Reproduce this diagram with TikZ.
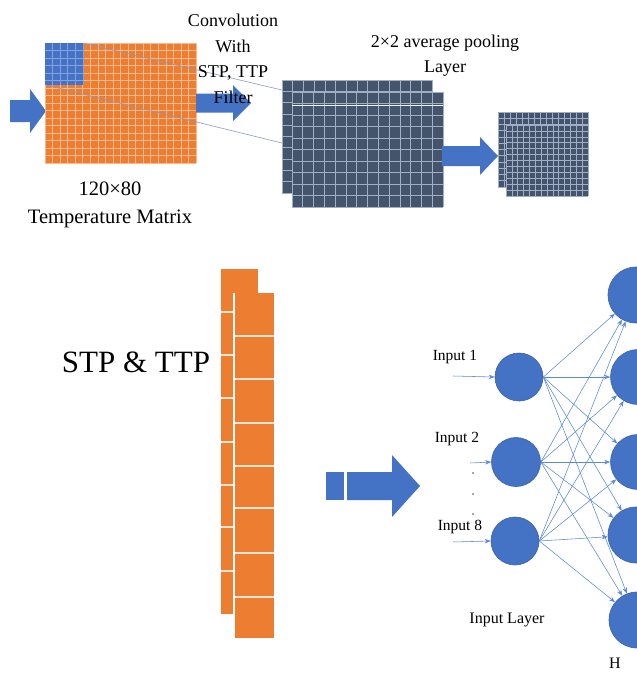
\documentclass[tikz,border=0pt]{standalone}
\usepackage{fontspec}
\setmainfont{Liberation Serif}
\usetikzlibrary{arrows.meta,shapes.geometric}
\definecolor{orng}{HTML}{ED7D31}
\definecolor{blu}{HTML}{4472C4}
\definecolor{bludark}{HTML}{3A62AC}
\definecolor{navy}{HTML}{44546A}
\definecolor{navygrid}{HTML}{9FAFC9}
\definecolor{orggrid}{HTML}{F6B990}
\definecolor{linkc}{HTML}{5B89D9}
\definecolor{patchline}{HTML}{8797C4}
\newcommand{\blkarrow}[6]{\fill[blu] (#1,#4-#5) -- (#2,#4-#5) -- (#2,#4-#6) -- (#3,#4) -- (#2,#4+#6) -- (#2,#4+#5) -- (#1,#4+#5) -- cycle;}
\newcommand{\gridmap}[8]{%
  \fill[#1] (#3,#4) rectangle (#5,#6);
  \foreach \k in {0,...,#7} {\draw[#2] ({#3+(#5-#3)*\k/#7},#4) -- ({#3+(#5-#3)*\k/#7},#6);}
  \foreach \k in {0,...,#8} {\draw[#2] (#3,{#4+(#6-#4)*\k/#8}) -- (#5,{#4+(#6-#4)*\k/#8});}
}
\tikzset{
  lbl/.style={inner sep=0pt, align=center, text=black},
  neuron/.style={circle, fill=blu, draw=bludark, line width=0.6pt, inner sep=0pt},
  conn/.style={draw=linkc, line width=0.55pt, -{Stealth[length=6pt,width=4.5pt]}},
}
\begin{document}
\begin{tikzpicture}[x=1pt,y=-1pt]
\useasboundingbox (0,0) rectangle (637,673);
\fill[white] (0,0) rectangle (637,673);

% ---------- top row ----------
\blkarrow{10}{30}{46}{111}{11}{22}
% temperature matrix
\gridmap{orng}{orggrid, line width=0.6pt}{45}{43}{196}{163}{20}{16}
\fill[blu] (45,43) rectangle (83,85);
\foreach \k in {1,...,5} {\draw[blu!65!white, line width=0.5pt] ({45+7.55*\k},43) -- ({45+7.55*\k},85);}
\foreach \k in {1,...,5} {\draw[blu!65!white, line width=0.5pt] (45,{43+7.5*\k}) -- (83,{43+7.5*\k});}
% convolution arrow
\blkarrow{196}{233}{251}{103}{9.5}{18}
% feature maps
\gridmap{navy}{navygrid, line width=0.7pt}{282}{80}{432}{193}{14}{10}
\gridmap{navy}{navygrid, line width=0.7pt}{292}{92}{443}{207}{14}{10}
\draw[white!85!navygrid, line width=1pt] (292,105) -- (443,105);
% receptive field lines
\coordinate (pa) at (83,43);
\coordinate (pb) at (46,85);
\coordinate (fa) at (282,90);
\coordinate (fb) at (282,143);
\draw[patchline, line width=0.7pt, opacity=0.85] (pa) -- (fa);
\draw[patchline, line width=0.7pt, opacity=0.85] (pb) -- (fb);
% pooling arrow
\blkarrow{442}{480}{498}{156}{10}{19}
% pooled maps
\gridmap{navy}{navygrid, line width=0.6pt}{498}{112}{588}{187}{15}{12}
\gridmap{navy}{navygrid, line width=0.6pt}{506}{125}{588}{196}{14}{12}

% top labels
\node[lbl, font=\fontsize{18}{25.5}\selectfont] (conv) at (233,59) {Convolution\\With\\STP, TTP\\Filter};
\node[lbl, font=\fontsize{18}{25}\selectfont] (pool) at (445,56) {2×2 average pooling\\Layer};
\node[lbl, font=\fontsize{20.5}{28}\selectfont] (tm) at (110,205) {120×80\\Temperature Matrix};

% ---------- bottom row ----------
\node[lbl, font=\fontsize{31}{31}\selectfont] (stp) at (136,362) {STP \& TTP};
% stacked orange columns
\foreach \y in {269,312,355,398,442,485,527,571} {\fill[orng] (221,\y) rectangle (258,{\y+43});}
\foreach \y in {312,355,398,442,485,527,571} {\draw[white!80!orng, line width=1.6pt] (221,\y) -- (258,\y);}
\fill[white] (233,293) rectangle (235,638);
\foreach \y in {293,336,379,423,466,508,553,597} {\fill[orng] (235,\y) rectangle (274,{min(\y+44,638)});}
\foreach \y in {336,379,423,466,508,553,597} {\draw[white!80!orng, line width=1.6pt] (235,\y) -- (274,\y);}
\draw[white!80!orng, line width=2.6pt] (235,336) -- (274,336);

% big arrow
\fill[blu] (326,472) rectangle (344,500);
\blkarrow{347}{392}{420}{486}{14}{31}

% input neurons
\node[neuron, minimum width=48pt, minimum height=47pt] (i1) at (519,377) {};
\node[neuron, minimum width=47pt, minimum height=49pt] (i2) at (516,462) {};
\node[neuron, minimum width=47pt, minimum height=48pt] (i8) at (515,541) {};
% hidden neurons
\node[neuron, minimum size=56pt] (h1) at (636,295) {};
\node[neuron, minimum size=55pt] (h2) at (638,377) {};
\node[neuron, minimum size=55pt] (h3) at (638,462) {};
\node[neuron, minimum size=56pt] (h4) at (636,535) {};
\node[neuron, minimum size=56pt] (h5) at (637,620) {};

% input arrows
\coordinate (s1) at (453,376);
\coordinate (s2) at (470,463);
\coordinate (s8) at (453,542);
\draw[conn] (s1) -- (i1.west);
\draw[conn] (s2) -- (i2.west);
\draw[conn] (s8) -- (i8.west);

% full connections
\foreach \i in {i1,i2,i8} {
  \foreach \h in {h1,h2,h3,h4,h5} {
    \draw[conn] (\i.east) -- (\h);
  }
}

% labels
\node[lbl, font=\fontsize{15.5}{15.5}\selectfont] (l1) at (455,357) {Input 1};
\node[lbl, font=\fontsize{15.5}{15.5}\selectfont] (l2) at (457,439) {Input 2};
\node[lbl, font=\fontsize{15.5}{15.5}\selectfont] (l8) at (460,527) {Input 8};
\fill[black!70] (473,473) circle (0.9);
\fill[black!70] (473,494) circle (0.9);
\fill[black!70] (473,514) circle (0.9);
\node[lbl, font=\fontsize{16}{16}\selectfont] (il) at (507,620) {Input Layer};
\node[lbl, font=\fontsize{16}{16}\selectfont, anchor=west] (hl) at (609,663) {H};
\end{tikzpicture}
\end{document}
